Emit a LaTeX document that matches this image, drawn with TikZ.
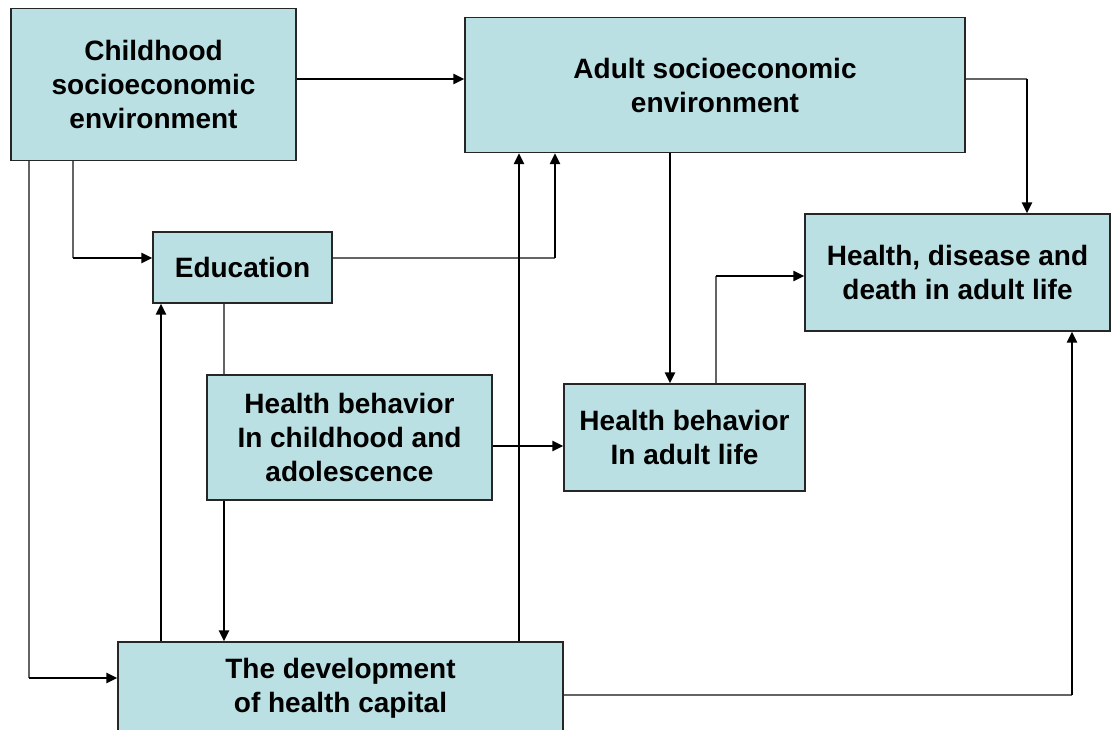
\documentclass[tikz,border=0pt]{standalone}
\usepackage{fontspec}
\setmainfont{Liberation Sans}
\usetikzlibrary{arrows.meta,calc}
\definecolor{boxfill}{RGB}{187,224,227}
\definecolor{thinline}{RGB}{100,100,100}
\begin{document}
\begin{tikzpicture}[x=1pt,y=-1pt,
  box/.style={draw=black!85, line width=1.3pt, fill=boxfill, inner sep=0pt, align=center,
    font=\bfseries\fontsize{28}{34}\selectfont},
  grayline/.style={draw=thinline, line width=1.4pt},
  arr/.style={draw=black, line width=2.6pt, -{Triangle[length=11pt,width=10pt]}}]
\useasboundingbox (0,0) rectangle (1111,729);
\fill[white] (0,0) rectangle (1111,729);
% boxes
\node[box, minimum width=285pt, minimum height=152pt] (child) at (153.5,84.5) {Childhood\\socioeconomic\\environment};
\node[box, minimum width=500pt, minimum height=135pt] (adult) at (715,85) {Adult socioeconomic\\environment};
\node[box, minimum width=179pt, minimum height=71pt] (edu) at (242.5,267.5) {Education};
\node[box, minimum width=305pt, minimum height=117pt] (health) at (957.5,272.5) {Health, disease and\\death in adult life};
\node[box, minimum width=285pt, minimum height=125pt] (hbc) at (349.5,437.5) {Health behavior\\In childhood and\\adolescence};
\node[box, minimum width=241pt, minimum height=107pt] (hba) at (684.5,437.5) {Health behavior\\In adult life};
\node[box, minimum width=445pt, minimum height=93pt] (dev) at (340.5,688.5) {The development\\of health capital};
% corner coordinates
\coordinate (c1) at (0,79);
\coordinate (c2) at (1027,79);
\coordinate (c3) at (73,258);
\coordinate (c4) at (29,678);
\coordinate (c5) at (555,258);
\coordinate (c6) at (224,0);
\coordinate (c8) at (161,0);
\coordinate (c9) at (519,0);
\coordinate (c10) at (0,446);
\coordinate (c11) at (670,0);
\coordinate (c12) at (716,276);
\coordinate (c13) at (1072,695);
% connectors
\draw[arr] (child.east |- c1) -- (adult.west |- c1);
\draw[grayline] (adult.east |- c2) -- (c2);
\draw[arr] (c2) -- (health.north -| c2);
\draw[grayline] (child.south -| c3) -- (c3);
\draw[arr] (c3) -- (edu.west |- c3);
\draw[grayline] (child.south -| c4) -- (c4);
\draw[arr] (c4) -- (dev.west |- c4);
\draw[grayline] (edu.east |- c5) -- (c5);
\draw[arr] (c5) -- (adult.south -| c5);
\draw[grayline] (edu.south -| c6) -- (hbc.north -| c6);
\draw[arr] (hbc.south -| c6) -- (dev.north -| c6);
\draw[arr] (dev.north -| c8) -- (edu.south -| c8);
\draw[arr] (dev.north -| c9) -- (adult.south -| c9);
\draw[arr] (hbc.east |- c10) -- (hba.west |- c10);
\draw[arr] (adult.south -| c11) -- (hba.north -| c11);
\draw[grayline] (hba.north -| c12) -- (c12);
\draw[arr] (c12) -- (health.west |- c12);
\draw[grayline] (dev.east |- c13) -- (c13);
\draw[arr] (c13) -- (health.south -| c13);
\end{tikzpicture}
\end{document}
